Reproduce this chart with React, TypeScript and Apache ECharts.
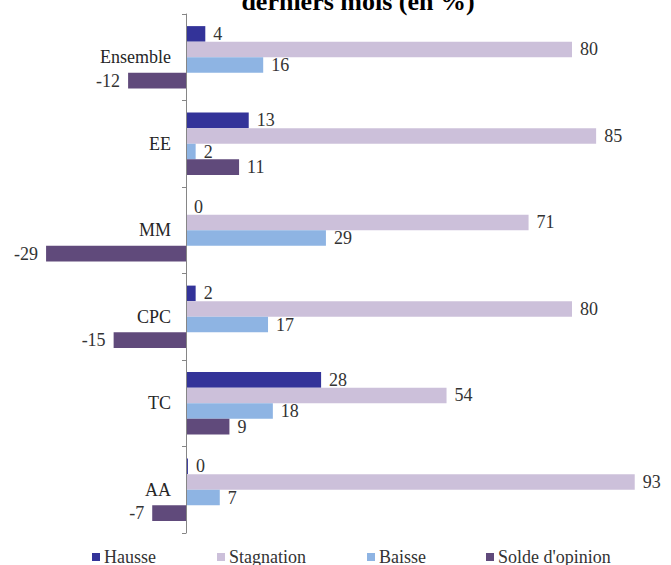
import React, { useEffect, useRef } from "react";
import * as echarts from "echarts";

const categories = ["Ensemble", "EE", "MM", "CPC", "TC", "AA"];
const seriesNames = ["Hausse", "Stagnation", "Baisse", "Solde d'opinion"];
const hausse = [4, 13, 0, 2, 28, 0.4];
const stagnation = [80, 85, 71, 80, 54, 93];
const baisse = [16, 2, 29, 17, 18, 7];
const solde = [-12, 11, -29, -15, 9, -7];
const colors = ["#333399", "#CCC0DA", "#8EB4E3", "#604A7B"];
const titleText = "derniers mois (en %)";

const FONT = "Liberation Serif";
const legendLefts = [92, 217, 367, 486];

export default function App() {
  const ref = useRef<HTMLDivElement>(null);
  useEffect(() => {
    if (!ref.current) return;
    const chart = echarts.init(ref.current, undefined, { renderer: "svg" });
    const values = [hausse, stagnation, baisse, solde];
    const k = 4.825;
    const min = -35;
    const max = 100;
    const zeroX = 186;
    const left = zeroX + min * k;
    const width = (max - min) * k;
    chart.setOption({
      animation: false,
      backgroundColor: "#ffffff",
      textStyle: { fontFamily: FONT },
      graphic: [
        {
          type: "text",
          x: 358,
          y: 1,
          style: {
            text: titleText,
            font: `bold 26px ${FONT}`,
            fill: "#000000",
            align: "center",
            verticalAlign: "middle",
          },
        },
      ],
      legend: seriesNames.map((name, i) => ({
        data: [name],
        left: legendLefts[i],
        top: 548,
        padding: 0,
        itemWidth: 8,
        itemHeight: 8,
        itemGap: 0,
        icon: "rect",
        selectedMode: false,
        textStyle: { fontFamily: FONT, fontSize: 18, color: "#333333", padding: [0, 0, 0, -1] },
      })),
      grid: {
        left: left,
        width: width,
        top: 14,
        height: 519,
        containLabel: false,
        outerBoundsMode: "none",
      },
      xAxis: {
        type: "value",
        min: min,
        max: max,
        show: true,
        axisLine: { show: false },
        axisTick: { show: false },
        axisLabel: { show: false },
        splitLine: { show: false },
      },
      yAxis: {
        type: "category",
        data: categories,
        inverse: true,
        axisLine: { show: true, onZero: true, lineStyle: { color: "#868686", width: 1 } },
        axisTick: { show: true, length: 4, lineStyle: { color: "#868686" } },
        axisLabel: {
          fontFamily: FONT,
          fontSize: 18,
          color: "#262626",
          margin: left - (zeroX - 15),
        },
        splitLine: { show: false },
        z: 5,
      },
      series: seriesNames.map((name, i) => ({
        name,
        type: "bar",
        barGap: "0%",
        barCategoryGap: "28%",
        itemStyle: { color: colors[i] },
        data: values[i].map((v) => ({
          value: v,
          label: {
            show: true,
            position: v < 0 ? "left" : "right",
            distance: 8,
            fontFamily: FONT,
            fontSize: 18,
            color: "#333333",
            formatter: (p: any) => String(Math.round(p.value)),
          },
        })),
      })),
    });
    return () => chart.dispose();
  }, []);
  return (
    <div
      ref={ref}
      style={{ position: "fixed", left: 0, top: 0, width: 671, height: 565 }}
    />
  );
}
